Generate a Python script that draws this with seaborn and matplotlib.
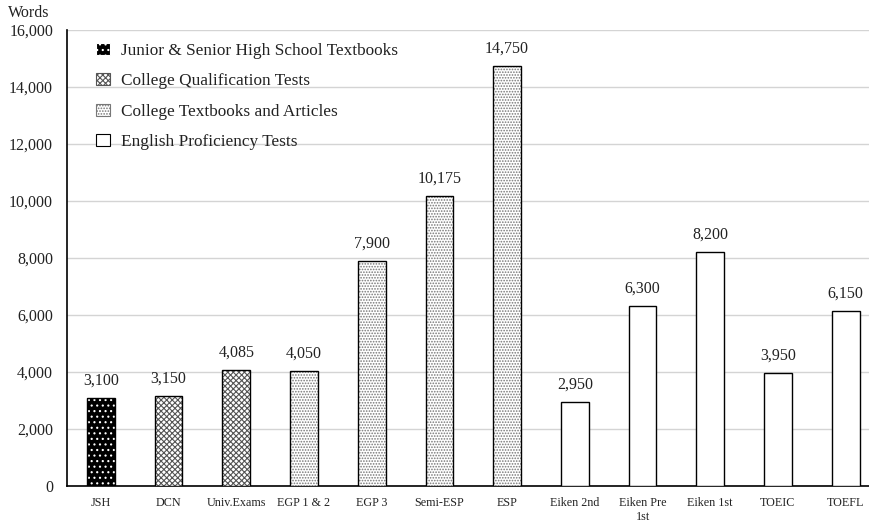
import matplotlib
matplotlib.use("Agg")
import matplotlib.pyplot as plt
from matplotlib.patches import Patch, Rectangle
from matplotlib.ticker import FuncFormatter, FixedLocator
import seaborn as sns
import pandas as pd

categories = ["JSH", "DCN", "Univ.Exams", "EGP 1 & 2", "EGP 3", "Semi-ESP", "ESP",
              "Eiken 2nd", "Eiken Pre\n1st", "Eiken 1st", "TOEIC", "TOEFL"]
words = [3100, 3150, 4085, 4050, 7900, 10175, 14750, 2950, 6300, 8200, 3950, 6150]
groups = ["Junior & Senior High School Textbooks",
          "College Qualification Tests",
          "College Textbooks and Articles",
          "English Proficiency Tests"]
group_of = [0, 1, 1, 2, 2, 2, 2, 3, 3, 3, 3, 3]

# fill, hatch pattern, hatch colour per group
styles = [
    ("black", "...", "white"),
    ("white", "xxxxxx", "#555555"),
    ("white", "......", "#777777"),
    ("white", "", "black"),
]

sns.set_theme(style="white")
plt.rcParams["font.family"] = ["Liberation Serif", "DejaVu Serif"]
plt.rcParams["hatch.linewidth"] = 0.8

df = pd.DataFrame({"category": categories, "words": words,
                   "group": [groups[g] for g in group_of]})

fig = plt.figure(figsize=(8.7, 5.24), dpi=100)
ax = fig.add_axes([67 / 870, 38 / 524, (870 - 67) / 870, (486 - 30) / 524])

sns.barplot(data=df, x="category", y="words", color="white", width=0.41,
            edgecolor="black", linewidth=1.0, ax=ax, zorder=3)

bars = [p for p in ax.patches]
for bar, g in zip(bars, group_of):
    face, hatch, hcol = styles[g]
    bar.set_facecolor(face)
    if hatch:
        bar.set_hatch(hatch)
        bar.set_edgecolor(hcol)
        bar.set_linewidth(0)
        # crisp black outline on top of the hatched fill
        ax.add_patch(Rectangle((bar.get_x(), bar.get_y()), bar.get_width(), bar.get_height(),
                               fill=False, edgecolor="black", linewidth=1.0, zorder=4))

for bar, v in zip(bars, words):
    ax.text(bar.get_x() + bar.get_width() / 2, v + 330, f"{v:,}",
            ha="center", va="bottom", fontsize=11.5, color="#222222")

ax.set_ylim(0, 16000)
ax.set_xlim(-0.5, 11.36)
ax.yaxis.set_major_locator(FixedLocator(range(0, 16001, 2000)))
ax.yaxis.set_major_formatter(FuncFormatter(lambda v, p: f"{int(v):,}"))
ax.grid(axis="y", color="#d4d4d4", linewidth=1.0, zorder=0)
ax.set_axisbelow(True)

ax.set_xlabel("")
ax.set_ylabel("")
ax.tick_params(axis="x", length=0, labelsize=8.7, pad=8, colors="#222222")
ax.set_xticks(range(len(categories)))
ax.set_xticklabels(categories, linespacing=1.2)
ax.set_xticks([i + 0.5 for i in range(len(categories) - 1)], minor=True)
ax.tick_params(axis="x", which="minor", direction="in", length=5, width=1, color="black")
ax.tick_params(axis="y", direction="in", length=5, width=1, color="black",
               labelsize=11.5, pad=10, labelcolor="#222222")

for side in ["top", "right"]:
    ax.spines[side].set_visible(False)
for side in ["left", "bottom"]:
    ax.spines[side].set_color("black")
    ax.spines[side].set_linewidth(1.2)

handles = []
for g, name in enumerate(groups):
    face, hatch, hcol = styles[g]
    handles.append(Patch(facecolor=face, hatch=hatch, edgecolor=hcol if hatch else "black",
                         linewidth=0.8, label=name))
leg = ax.legend(handles=handles, loc="upper left", bbox_to_anchor=(0.0165, 1.006),
                frameon=False, fontsize=12.4, handlelength=0.85, handleheight=0.72,
                handletextpad=0.6, labelspacing=0.83)
for t in leg.get_texts():
    t.set_color("#222222")

fig.text(8 / 870, 1 - 13 / 524, "Words", fontsize=11.5, va="center", ha="left", color="#222222")

fig.savefig("out.png", dpi=100)
